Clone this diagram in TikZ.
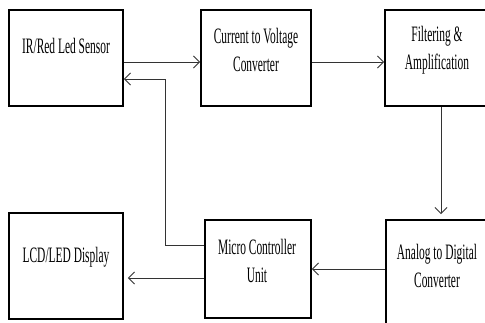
\documentclass[tikz,border=0pt]{standalone}
\usepackage{fontspec}
\newfontfamily\boxfont[FakeStretch=0.52]{Liberation Serif}
\usetikzlibrary{arrows.meta}
\begin{document}
\begin{tikzpicture}[x=1pt,y=-1pt,
  blockbox/.style={draw=black,line width=1.9pt,inner sep=0pt},
  lbl/.style={font=\boxfont\fontsize{22}{28}\selectfont,align=center,inner sep=0pt,anchor=base},
  conn/.style={draw=black!80,line width=0.9pt,-{Straight Barb[length=6pt,width=12pt,line width=0.9pt]}}
]
\clip (0,0) rectangle (485,322);
\fill[white] (0,0) rectangle (485,322);
% boxes
\node[blockbox,minimum width=114pt,minimum height=96pt] (sensor) at (66,58) {};
\node[blockbox,minimum width=110pt,minimum height=96pt] (civ) at (256,58) {};
\node[blockbox,minimum width=130pt,minimum height=96pt] (filt) at (450,58) {};
\node[blockbox,minimum width=114pt,minimum height=106pt] (lcd) at (66,266) {};
\node[blockbox,minimum width=106pt,minimum height=98pt] (mcu) at (258,269) {};
\node[blockbox,minimum width=130pt,minimum height=130pt] (adc) at (451,285) {};
% labels (base = baseline of last line)
\node[lbl] (tsensor) at (66,53) {IR/Red Led Sensor};
\node[lbl] (tciv) at (256,71) {Current to Voltage\\Converter};
\node[lbl] (tfilt) at (437,69) {Filtering \&\\Amplification};
\node[lbl] (tlcd) at (66,262) {LCD/LED Display};
\node[lbl] (tmcu) at (257,282) {Micro Controller\\Unit};
\node[lbl] (tadc) at (437,287) {Analog to Digital\\Converter};
% connectors
\coordinate (fbx) at (165,0);
\draw[conn] (sensor.east |- 0,62) -- (civ.west |- 0,62);
\draw[conn] (civ.east |- 0,62) -- (filt.west |- 0,62);
\draw[conn,shorten >=5pt] (filt.south -| 441,0) -- (adc.north -| 441,0);
\draw[conn] (adc.west |- 0,269) -- (mcu.east |- 0,269);
\draw[conn,shorten >=4pt] (mcu.west |- 0,278) -- (lcd.east |- 0,278);
\draw[conn] (mcu.west |- 0,245) -- (fbx |- 0,245) -- (fbx |- 0,79) -- (sensor.east |- 0,79);
\end{tikzpicture}
\end{document}
